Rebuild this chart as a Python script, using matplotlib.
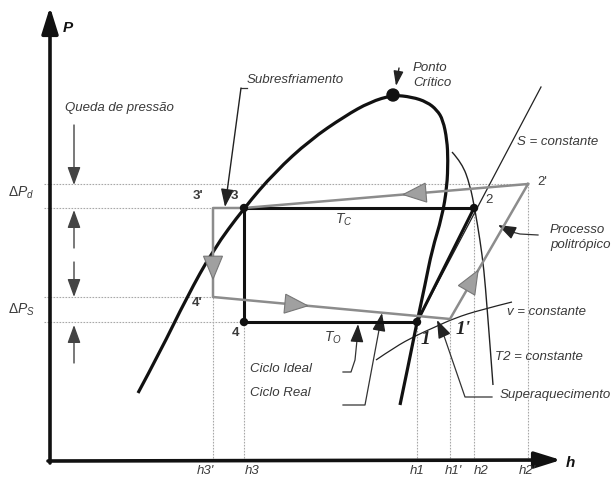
import numpy as np
import matplotlib
matplotlib.use("Agg")
import matplotlib.pyplot as plt
from matplotlib.path import Path
from matplotlib.patches import PathPatch, Polygon, Circle

plt.rcParams['font.family'] = ['Liberation Sans', 'DejaVu Sans']
plt.rcParams['mathtext.fontset'] = 'custom'
plt.rcParams['mathtext.rm'] = 'Liberation Sans'
plt.rcParams['mathtext.it'] = 'Liberation Sans:italic'

# enthalpy positions of the state points (schematic units)
h_3p, h_3, h_1, h_1p, h_2, h_2p = 213, 244, 417, 450, 474, 528
# pressure levels (schematic units)
P_2p, P_c, P_4p, P_o, P_1p = 298, 274, 185, 160, 163

h_ticks = [h_3p, h_3, h_1, h_1p, h_2, h_2p]
h_tick_labels = ["h3'", "h3", "h1", "h1'", "h2", "h2'"]
h_tick_pos = [205, 252, 417, 453, 481, 527]

# saturation dome
dome_h = [138, 160, 187, 213, 244, 275, 310, 345, 370, 393,
          412, 427, 437, 443, 447, 448, 447, 442, 432, 425, 417, 409, 400]
dome_P = [89, 130, 185, 232, 274, 310, 342, 366, 380, 387,
          385, 380, 372, 362, 342, 322, 295, 265, 232, 197, 160, 120, 77]
h_crit, P_crit = 393, 387

# isotherm T2, isochore v and isentrope S
t2_h = [452, 462, 470, 475, 480, 484, 487, 490, 493]
t2_P = [330, 319, 297, 272, 242, 212, 175, 137, 97]
v_h = [376, 395, 415, 435, 455, 480, 512]
v_P = [122, 135, 146, 155, 164, 172, 180]
s_h = [417, 541]
s_P = [160, 395]

GRAY = '#8c8c8c'
TXT = '#3a3a3a'
DOT = '#a8a8a8'


def smooth(ax, hs, ps, **kw):
    pts = list(zip(hs, ps))
    verts = [pts[0]]
    codes = [Path.MOVETO]
    for i in range(1, len(pts) - 1):
        mid = ((pts[i][0] + pts[i + 1][0]) / 2, (pts[i][1] + pts[i + 1][1]) / 2)
        if i == len(pts) - 2:
            mid = pts[-1]
        verts += [pts[i], mid]
        codes += [Path.CURVE3, Path.CURVE3]
    ax.add_patch(PathPatch(Path(verts, codes), fill=False, **kw))


def tri(ax, a, b, t, length=23, width=19):
    a, b = np.array(a, float), np.array(b, float)
    d = (b - a) / np.hypot(*(b - a))
    tip = a + t * (b - a)
    base = tip - length * d
    n = np.array([-d[1], d[0]])
    ax.add_patch(Polygon([tip, base + n * width / 2, base - n * width / 2],
                         closed=True, fc='#a0a0a0', ec='#777777', lw=0.8, zorder=5))


def arrow(ax, tail, tip, color='#222222', lw=1.0, hl=1.1, hw=0.4):
    ax.annotate('', xy=tip, xytext=tail,
                arrowprops=dict(arrowstyle=f'-|>,head_length={hl},head_width={hw}',
                                color=color, lw=lw, shrinkA=0, shrinkB=0))


fig = plt.figure(figsize=(6.14, 4.82), dpi=100)
ax = fig.add_axes([0, 0, 1, 1])
ax.set_xlim(0, 614)
ax.set_ylim(0, 482)
ax.axis('off')

# dotted guide lines
dkw = dict(color=DOT, lw=0.8, ls=(0, (1.5, 1.2)), zorder=1)
ax.plot([44, h_2p], [P_2p, P_2p], **dkw)
ax.plot([44, h_3p], [P_c, P_c], **dkw)
ax.plot([44, h_3p], [P_4p, P_4p], **dkw)
ax.plot([44, h_3], [P_o, P_o], **dkw)
for hv, top in zip(h_ticks, [P_4p, P_o, P_o, P_1p, P_c, P_2p]):
    ax.plot([hv, hv], [21, top], **dkw)

# axes with arrows
ax.annotate('', xy=(50, 475), xytext=(50, 19),
            arrowprops=dict(arrowstyle='-|>,head_length=1.6,head_width=0.5',
                            color='#111111', lw=2.6, shrinkA=0, shrinkB=0))
ax.annotate('', xy=(561, 22), xytext=(48, 21),
            arrowprops=dict(arrowstyle='-|>,head_length=1.6,head_width=0.5',
                            color='#111111', lw=2.6, shrinkA=0, shrinkB=0))
ax.text(63, 454, 'P', fontsize=11, fontweight='bold', style='italic', color='#111111',
        va='center', ha='left')
ax.text(566, 19, 'h', fontsize=11, fontweight='bold', style='italic', color='#111111',
        va='center', ha='left')
for x, lab in zip(h_tick_pos, h_tick_labels):
    ax.text(x, 11, lab, fontsize=9.5, style='italic', color=TXT, ha='center', va='center')

# saturation dome, isolines
smooth(ax, dome_h, dome_P, ec='#111111', lw=2.3, zorder=3)
smooth(ax, t2_h, t2_P, ec='#222222', lw=1.0, zorder=2)
smooth(ax, v_h, v_P, ec='#222222', lw=0.9, zorder=2)
ax.plot(s_h, s_P, color='#222222', lw=0.9, zorder=2)
ax.add_patch(Circle((h_crit, P_crit), 6, color='#111111', zorder=6))

# ideal cycle
ikw = dict(color='#111111', lw=2.2, zorder=4, solid_capstyle='butt')
ax.plot([h_3, h_2], [P_c, P_c], **ikw)
ax.plot([h_3, h_3], [P_c, P_o], **ikw)
ax.plot([h_3, h_1], [P_o, P_o], **ikw)
ax.plot([h_1, h_2], [P_o, P_c], **ikw)
for hv, pv in [(h_3, P_c), (h_2, P_c), (h_3, P_o), (h_1, P_o)]:
    ax.add_patch(Circle((hv, pv), 3.5, color='#111111', zorder=6))

# real cycle
real_h = [h_2p, h_3, h_3p, h_3p, h_1p, h_2p]
real_P = [P_2p, P_c, P_c, P_4p, P_1p, P_2p]
ax.plot(real_h, real_P, color=GRAY, lw=1.8, zorder=4)
tri(ax, (h_2p, P_2p), (h_3, P_c), 0.44)
tri(ax, (h_3p, P_c), (h_3p, P_4p), 0.80)
tri(ax, (h_3p, P_4p), (h_1p, P_1p), 0.40)
tri(ax, (h_1p, P_1p), (h_2p, P_2p), 0.36)

# pressure-drop arrows
arrow(ax, (74, 357), (74, 297), color='#444444')
arrow(ax, (74, 234), (74, 272), color='#444444')
arrow(ax, (74, 220), (74, 185), color='#444444')
arrow(ax, (74, 119), (74, 157), color='#444444')

tkw = dict(fontsize=9.5, style='italic', color=TXT)
ax.text(65, 374, 'Queda de pressão', va='center', **tkw)
ax.text(8, 289, r'$\Delta P_{d}$', fontsize=10, color=TXT, va='center')
ax.text(8, 172, r'$\Delta P_{S}$', fontsize=10, color=TXT, va='center')

# annotations with leaders
ax.text(247, 402, 'Subresfriamento', va='center', **tkw)
ax.plot([247, 241], [394, 394], color='#333333', lw=0.9)
arrow(ax, (241, 394), (225, 275))

ax.text(413, 414, 'Ponto', va='center', **tkw)
ax.text(413, 399, 'Crítico', va='center', **tkw)
arrow(ax, (399, 414), (396, 396), hl=0.9, hw=0.3)

ax.text(517, 340, 'S = constante', va='center', **tkw)
ax.text(550, 252, 'Processo', va='center', **tkw)
ax.text(550, 237, 'politrópico', va='center', **tkw)
ax.plot([538, 520, 512], [247, 248, 250], color='#333333', lw=0.9)
arrow(ax, (512, 250), (498, 257))

ax.text(507, 170, 'v = constante', va='center', **tkw)
ax.text(495, 125, 'T2 = constante', va='center', **tkw)

ax.text(250, 113, 'Ciclo Ideal', va='center', **tkw)
ax.plot([343, 351, 355, 357], [110, 110, 122, 142], color='#333333', lw=0.9)
arrow(ax, (357, 142), (358, 158))

ax.text(250, 89, 'Ciclo Real', va='center', **tkw)
ax.plot([343, 365, 379], [77, 77, 152], color='#333333', lw=0.9)
arrow(ax, (379, 152), (382, 169))

ax.text(500, 87, 'Superaquecimento', va='center', **tkw)
ax.plot([492, 465, 443], [85, 85, 149], color='#333333', lw=0.9)
arrow(ax, (443, 149), (437, 162))

# state labels
ax.text(198, 286, "3'", va='center', ha='center', fontsize=9.5, fontweight='bold', color=TXT)
ax.text(234, 286, "3", va='center', ha='center', fontsize=9.5, fontweight='bold', color=TXT)
ax.text(537, 300, "2'", va='center', ha='left', fontsize=9.5, color=TXT)
ax.text(485, 282, "2", va='center', ha='left', fontsize=9.5, color=TXT)
ax.text(197, 179, "4'", va='center', ha='center', fontsize=9.5, fontweight='bold', color=TXT)
ax.text(235, 149, "4", va='center', ha='center', fontsize=9.5, fontweight='bold', color=TXT)
ax.text(425, 142, "1", va='center', ha='center', fontsize=14, fontweight='bold',
        style='italic', family='Liberation Serif', color='#222222')
ax.text(463, 152, "1'", va='center', ha='center', fontsize=14, fontweight='bold',
        style='italic', family='Liberation Serif', color='#222222')
ax.text(335, 262, r'$T_{C}$', fontsize=10, color=TXT, va='center')
ax.text(324, 144, r'$T_{O}$', fontsize=10, color=TXT, va='center')

fig.savefig('out.png', dpi=100)
